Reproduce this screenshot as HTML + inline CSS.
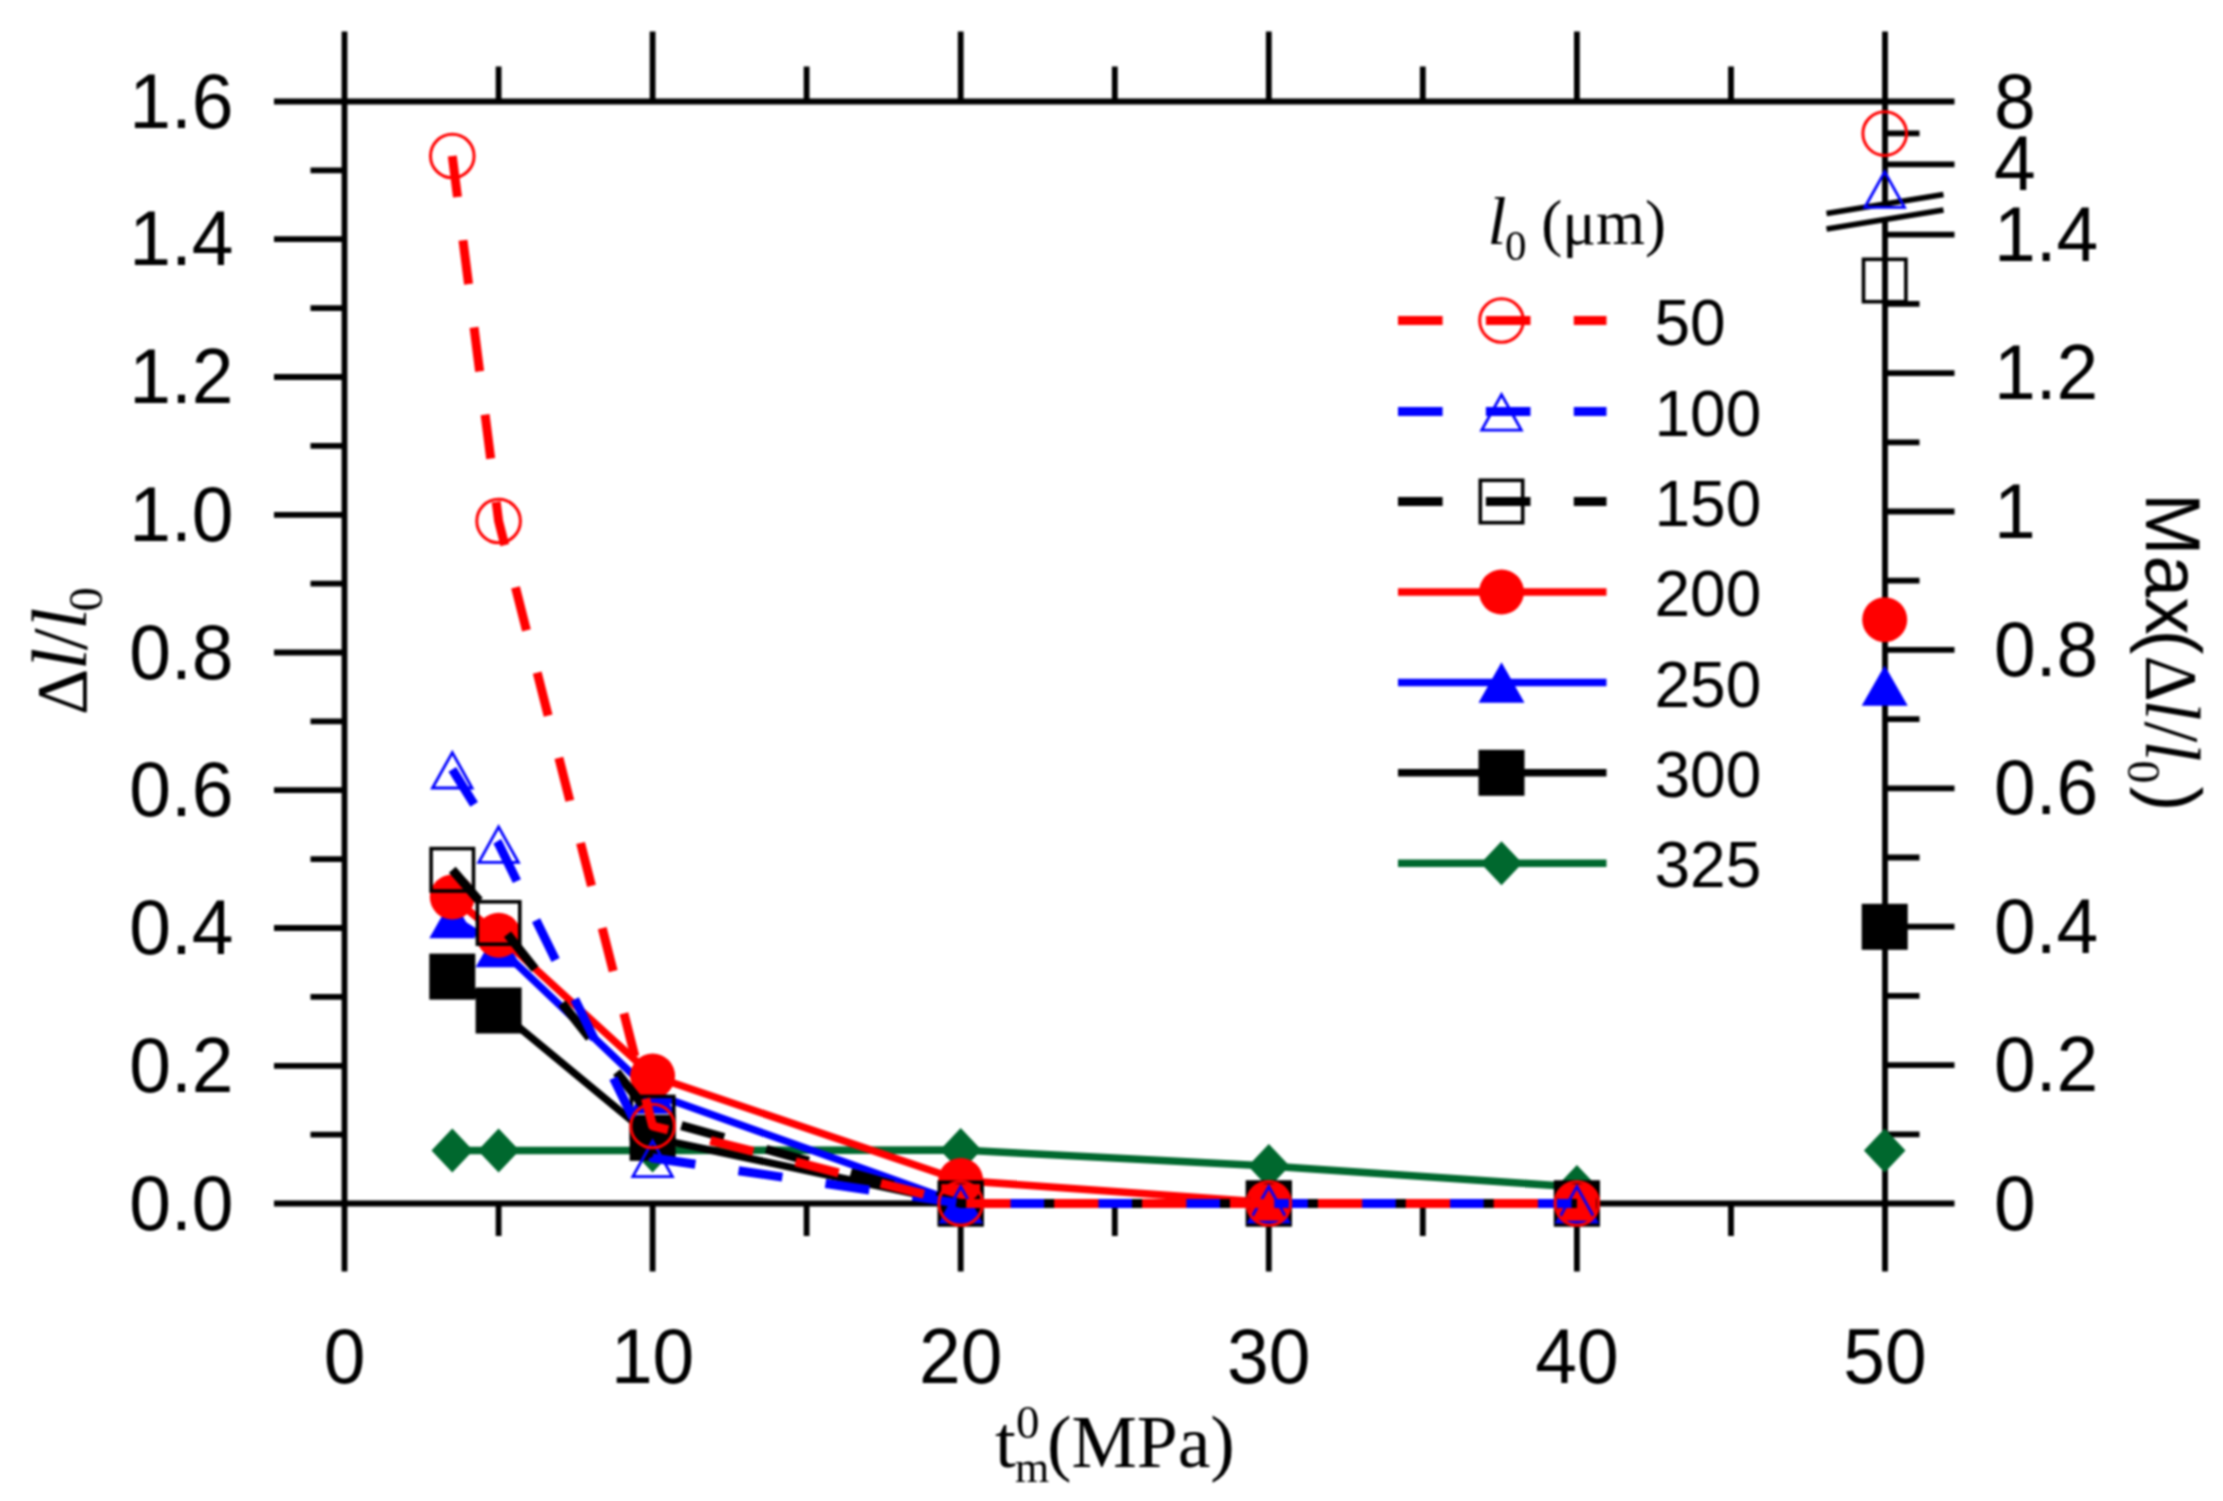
<!DOCTYPE html>
<html lang="en"><head><meta charset="utf-8"><title>Chart</title>
<style>html,body{margin:0;padding:0;background:#fff;}body{width:2223px;height:1501px;overflow:hidden;}svg{display:block;filter:blur(1.3px);}.s{font-family:"Liberation Sans",sans-serif;}.r{font-family:"Liberation Serif",serif;}.i{font-family:"Liberation Serif",serif;font-style:italic;}</style>
</head><body>
<svg width="2223" height="1501" viewBox="0 0 2223 1501">
<rect width="2223" height="1501" fill="#fff"/>
<g stroke="#000" stroke-width="5.8" fill="none" stroke-linecap="butt">
<path d="M344.5 31.5V1271.5"/>
<path d="M1885.0 31.5V1271.5"/>
<path d="M274 101.5H1954.5"/>
<path d="M274 1203.5H1954.5"/>
<path d="M498.6 1203.5V1236M498.6 101.5V66.5M652.6 1203.5V1271.5M652.6 101.5V31.5M806.6 1203.5V1236M806.6 101.5V66.5M960.7 1203.5V1271.5M960.7 101.5V31.5M1114.8 1203.5V1236M1114.8 101.5V66.5M1268.8 1203.5V1271.5M1268.8 101.5V31.5M1422.8 1203.5V1236M1422.8 101.5V66.5M1576.9 1203.5V1271.5M1576.9 101.5V31.5M1731.0 1203.5V1236M1731.0 101.5V66.5"/>
<path d="M344.5 1134.6H310.5M344.5 1065.8H274M344.5 996.9H310.5M344.5 928.0H274M344.5 859.1H310.5M344.5 790.2H274M344.5 721.4H310.5M344.5 652.5H274M344.5 583.6H310.5M344.5 514.8H274M344.5 445.9H310.5M344.5 377.0H274M344.5 308.1H310.5M344.5 239.2H274M344.5 170.4H310.5"/>
<path d="M1885.0 1065.1H1954.5M1885.0 926.7H1954.5M1885.0 788.3H1954.5M1885.0 649.9H1954.5M1885.0 511.5H1954.5M1885.0 373.1H1954.5M1885.0 234.7H1954.5M1885.0 1134.3H1919.5M1885.0 995.9H1919.5M1885.0 857.5H1919.5M1885.0 719.1H1919.5M1885.0 580.7H1919.5M1885.0 442.3H1919.5M1885.0 303.9H1919.5M1885.0 164.4H1954.5M1885.0 133.4H1919.5"/>
</g>
<path d="M1878 206.5L1892 204.2L1892 219.2L1878 221.5Z" fill="#fff"/>
<path d="M1826.5 213.6L1943.5 194.6M1826.5 229.1L1943.5 210.1" stroke="#000" stroke-width="5.6" fill="none" stroke-linecap="butt"/>
<polyline points="452.3,1150.5 498.6,1150.5 652.6,1150.5 960.7,1150.0 1268.8,1166.0 1576.9,1187.0" fill="none" stroke="#00682e" stroke-width="7.5" stroke-linejoin="round"/>
<path d="M431.5 1150.5L452.3 1128.5L473.1 1150.5L452.3 1172.5Z" fill="#00682e"/>
<path d="M477.8 1150.5L498.6 1128.5L519.4 1150.5L498.6 1172.5Z" fill="#00682e"/>
<path d="M631.8 1150.5L652.6 1128.5L673.4 1150.5L652.6 1172.5Z" fill="#00682e"/>
<path d="M939.9 1150.0L960.7 1128.0L981.5 1150.0L960.7 1172.0Z" fill="#00682e"/>
<path d="M1248.0 1166.0L1268.8 1144.0L1289.6 1166.0L1268.8 1188.0Z" fill="#00682e"/>
<path d="M1556.1 1187.0L1576.9 1165.0L1597.7 1187.0L1576.9 1209.0Z" fill="#00682e"/>
<path d="M1863.9 1150.6L1884.7 1128.6L1905.5 1150.6L1884.7 1172.6Z" fill="#00682e"/>
<polyline points="452.3,976.6 498.6,1010.5 652.6,1137.8 960.7,1203.5 1268.8,1203.5 1576.9,1203.5" fill="none" stroke="#000" stroke-width="7.5" stroke-linejoin="round"/>
<rect x="429.3" y="953.6" width="46" height="46" fill="#000"/>
<rect x="475.6" y="987.5" width="46" height="46" fill="#000"/>
<rect x="629.6" y="1114.8" width="46" height="46" fill="#000"/>
<rect x="937.7" y="1180.5" width="46" height="46" fill="#000"/>
<rect x="1245.8" y="1180.5" width="46" height="46" fill="#000"/>
<rect x="1553.9" y="1180.5" width="46" height="46" fill="#000"/>
<rect x="1861.7" y="903.8" width="46" height="46" fill="#000"/>
<polyline points="452.3,918.0 498.6,947.0 652.6,1093.5 960.7,1203.5 1268.8,1203.5 1576.9,1203.5" fill="none" stroke="#0000ff" stroke-width="7.5" stroke-linejoin="round"/>
<path d="M429.3 938.2L452.3 897.8L475.3 938.2Z" fill="#0000ff"/>
<path d="M475.6 967.2L498.6 926.8L521.5 967.2Z" fill="#0000ff"/>
<path d="M629.6 1113.7L652.6 1073.3L675.6 1113.7Z" fill="#0000ff"/>
<path d="M937.7 1223.7L960.7 1183.3L983.7 1223.7Z" fill="#0000ff"/>
<path d="M1245.8 1223.7L1268.8 1183.3L1291.8 1223.7Z" fill="#0000ff"/>
<path d="M1553.9 1223.7L1576.9 1183.3L1599.9 1223.7Z" fill="#0000ff"/>
<path d="M1861.7 705.8L1884.7 665.4L1907.7 705.8Z" fill="#0000ff"/>
<polyline points="452.3,897.0 498.6,935.3 652.6,1076.0 960.7,1180.5 1268.8,1202.5 1576.9,1203.5" fill="none" stroke="#ff0000" stroke-width="7.5" stroke-linejoin="round"/>
<circle cx="452.3" cy="897.0" r="22.5" fill="#ff0000"/>
<circle cx="498.6" cy="935.3" r="22.5" fill="#ff0000"/>
<circle cx="652.6" cy="1076.0" r="22.5" fill="#ff0000"/>
<circle cx="960.7" cy="1180.5" r="22.5" fill="#ff0000"/>
<circle cx="1268.8" cy="1202.5" r="22.5" fill="#ff0000"/>
<circle cx="1576.9" cy="1203.5" r="22.5" fill="#ff0000"/>
<circle cx="1884.7" cy="619.7" r="22.5" fill="#ff0000"/>
<polyline points="452.3,869.8 498.6,923.0 652.6,1117.6 960.7,1203.5 1268.8,1203.5 1576.9,1203.5" fill="none" stroke="#000" stroke-width="9" stroke-dasharray="44.3 43.6" stroke-dashoffset="3" stroke-linejoin="round"/>
<rect x="431.1" y="848.6" width="42.4" height="42.4" fill="none" stroke="#000" stroke-width="3.6"/>
<rect x="477.4" y="901.8" width="42.4" height="42.4" fill="none" stroke="#000" stroke-width="3.6"/>
<rect x="631.4" y="1096.4" width="42.4" height="42.4" fill="none" stroke="#000" stroke-width="3.6"/>
<rect x="939.5" y="1182.3" width="42.4" height="42.4" fill="none" stroke="#000" stroke-width="3.6"/>
<rect x="1247.6" y="1182.3" width="42.4" height="42.4" fill="none" stroke="#000" stroke-width="3.6"/>
<rect x="1555.7" y="1182.3" width="42.4" height="42.4" fill="none" stroke="#000" stroke-width="3.6"/>
<rect x="1863.5" y="259.3" width="42.4" height="42.4" fill="none" stroke="#000" stroke-width="3.6"/>
<polyline points="452.3,769.4 498.6,843.8 652.6,1158.0 960.7,1203.5 1268.8,1203.5 1576.9,1203.5" fill="none" stroke="#0000ff" stroke-width="9" stroke-dasharray="44.3 43.6" stroke-dashoffset="3" stroke-linejoin="round"/>
<path d="M432.5 788.0L452.3 752.5L472.1 788.0Z" fill="none" stroke="#0000ff" stroke-width="2.8" stroke-linejoin="miter"/>
<path d="M478.8 862.4L498.6 826.9L518.4 862.4Z" fill="none" stroke="#0000ff" stroke-width="2.8" stroke-linejoin="miter"/>
<path d="M632.8 1176.6L652.6 1141.1L672.4 1176.6Z" fill="none" stroke="#0000ff" stroke-width="2.8" stroke-linejoin="miter"/>
<path d="M940.9 1222.1L960.7 1186.6L980.5 1222.1Z" fill="none" stroke="#0000ff" stroke-width="2.8" stroke-linejoin="miter"/>
<path d="M1249.0 1222.1L1268.8 1186.6L1288.6 1222.1Z" fill="none" stroke="#0000ff" stroke-width="2.8" stroke-linejoin="miter"/>
<path d="M1557.1 1222.1L1576.9 1186.6L1596.7 1222.1Z" fill="none" stroke="#0000ff" stroke-width="2.8" stroke-linejoin="miter"/>
<path d="M1864.9 207.3L1884.7 171.8L1904.5 207.3Z" fill="none" stroke="#0000ff" stroke-width="2.8" stroke-linejoin="miter"/>
<polyline points="452.3,156.0 498.6,521.0 652.6,1126.0 960.7,1203.5 1268.8,1203.5 1576.9,1203.5" fill="none" stroke="#ff0000" stroke-width="9" stroke-dasharray="44.3 43.6" stroke-dashoffset="3" stroke-linejoin="round"/>
<circle cx="452.3" cy="156.0" r="21.8" fill="none" stroke="#ff0000" stroke-width="3"/>
<circle cx="498.6" cy="521.0" r="21.8" fill="none" stroke="#ff0000" stroke-width="3"/>
<circle cx="652.6" cy="1126.0" r="21.8" fill="none" stroke="#ff0000" stroke-width="3"/>
<circle cx="960.7" cy="1203.5" r="21.8" fill="none" stroke="#ff0000" stroke-width="3"/>
<circle cx="1268.8" cy="1203.5" r="21.8" fill="none" stroke="#ff0000" stroke-width="3"/>
<circle cx="1576.9" cy="1203.5" r="21.8" fill="none" stroke="#ff0000" stroke-width="3"/>
<circle cx="1884.7" cy="133.6" r="21.8" fill="none" stroke="#ff0000" stroke-width="3"/>
<path d="M1398 320.5H1606.5" stroke="#ff0000" stroke-width="9" stroke-dasharray="44.6 43.3" fill="none"/>
<circle cx="1501.5" cy="320.5" r="21.8" fill="none" stroke="#ff0000" stroke-width="3"/>
<path d="M1398 411.5H1606.5" stroke="#0000ff" stroke-width="9" stroke-dasharray="44.6 43.3" fill="none"/>
<path d="M1481.7 430.1L1501.5 394.6L1521.3 430.1Z" fill="none" stroke="#0000ff" stroke-width="2.8" stroke-linejoin="miter"/>
<path d="M1398 501.5H1606.5" stroke="#000" stroke-width="9" stroke-dasharray="44.6 43.3" fill="none"/>
<rect x="1480.3" y="480.3" width="42.4" height="42.4" fill="none" stroke="#000" stroke-width="3.6"/>
<path d="M1398 592H1606.5" stroke="#ff0000" stroke-width="7.5" fill="none"/>
<circle cx="1501.5" cy="592.0" r="22.5" fill="#ff0000"/>
<path d="M1398 682.5H1606.5" stroke="#0000ff" stroke-width="7.5" fill="none"/>
<path d="M1478.5 702.7L1501.5 662.3L1524.5 702.7Z" fill="#0000ff"/>
<path d="M1398 772.8H1606.5" stroke="#000" stroke-width="7.5" fill="none"/>
<rect x="1478.5" y="749.8" width="46" height="46" fill="#000"/>
<path d="M1398 863.2H1606.5" stroke="#00682e" stroke-width="7.5" fill="none"/>
<path d="M1480.7 863.2L1501.5 841.2L1522.3 863.2L1501.5 885.2Z" fill="#00682e"/>
<g class="s" fill="#000">
<text transform="translate(233.5 1229.5) scale(1 1.03)" text-anchor="end" font-size="75">0.0</text>
<text transform="translate(233.5 1091.8) scale(1 1.03)" text-anchor="end" font-size="75">0.2</text>
<text transform="translate(233.5 954.0) scale(1 1.03)" text-anchor="end" font-size="75">0.4</text>
<text transform="translate(233.5 816.2) scale(1 1.03)" text-anchor="end" font-size="75">0.6</text>
<text transform="translate(233.5 678.5) scale(1 1.03)" text-anchor="end" font-size="75">0.8</text>
<text transform="translate(233.5 540.8) scale(1 1.03)" text-anchor="end" font-size="75">1.0</text>
<text transform="translate(233.5 403.0) scale(1 1.03)" text-anchor="end" font-size="75">1.2</text>
<text transform="translate(233.5 265.2) scale(1 1.03)" text-anchor="end" font-size="75">1.4</text>
<text transform="translate(233.5 127.5) scale(1 1.03)" text-anchor="end" font-size="75">1.6</text>
<text transform="translate(344.5 1382.5) scale(1 1.03)" text-anchor="middle" font-size="75">0</text>
<text transform="translate(652.6 1382.5) scale(1 1.03)" text-anchor="middle" font-size="75">10</text>
<text transform="translate(960.7 1382.5) scale(1 1.03)" text-anchor="middle" font-size="75">20</text>
<text transform="translate(1268.8 1382.5) scale(1 1.03)" text-anchor="middle" font-size="75">30</text>
<text transform="translate(1576.9 1382.5) scale(1 1.03)" text-anchor="middle" font-size="75">40</text>
<text transform="translate(1885.0 1382.5) scale(1 1.03)" text-anchor="middle" font-size="75">50</text>
<text transform="translate(1994.0 1229.5) scale(1 1.03)" text-anchor="start" font-size="75">0</text>
<text transform="translate(1994.0 1091.1) scale(1 1.03)" text-anchor="start" font-size="75">0.2</text>
<text transform="translate(1994.0 952.7) scale(1 1.03)" text-anchor="start" font-size="75">0.4</text>
<text transform="translate(1994.0 814.3) scale(1 1.03)" text-anchor="start" font-size="75">0.6</text>
<text transform="translate(1994.0 675.9) scale(1 1.03)" text-anchor="start" font-size="75">0.8</text>
<text transform="translate(1994.0 537.5) scale(1 1.03)" text-anchor="start" font-size="75">1</text>
<text transform="translate(1994.0 399.1) scale(1 1.03)" text-anchor="start" font-size="75">1.2</text>
<text transform="translate(1994.0 260.7) scale(1 1.03)" text-anchor="start" font-size="75">1.4</text>
<text transform="translate(1994.0 190.4) scale(1 1.03)" text-anchor="start" font-size="75">4</text>
<text transform="translate(1994.0 127.5) scale(1 1.03)" text-anchor="start" font-size="75">8</text>
<text transform="translate(1654.5 344.5) scale(1 1.0)" text-anchor="start" font-size="64">50</text>
<text transform="translate(1654.5 435.5) scale(1 1.0)" text-anchor="start" font-size="64">100</text>
<text transform="translate(1654.5 525.5) scale(1 1.0)" text-anchor="start" font-size="64">150</text>
<text transform="translate(1654.5 616.0) scale(1 1.0)" text-anchor="start" font-size="64">200</text>
<text transform="translate(1654.5 706.5) scale(1 1.0)" text-anchor="start" font-size="64">250</text>
<text transform="translate(1654.5 796.8) scale(1 1.0)" text-anchor="start" font-size="64">300</text>
<text transform="translate(1654.5 887.2) scale(1 1.0)" text-anchor="start" font-size="64">325</text>
</g>
<text y="244" fill="#000" font-size="63"><tspan class="i" font-size="68" x="1487.5">l</tspan><tspan class="r" font-size="43" x="1505" y="259.5">0</tspan><tspan class="r" x="1525.5" y="244"> (μm)</tspan></text>
<text y="1467" fill="#000" class="r"><tspan x="995" font-size="75">t</tspan><tspan x="1016" y="1437.5" font-size="47">0</tspan><tspan x="1015" y="1482.3" font-size="44">m</tspan><tspan x="1047" y="1467" font-size="73.5">(MPa)</tspan></text>
<text transform="translate(86 714.5) rotate(-90)" font-size="79" fill="#000"><tspan class="r" font-size="72" x="-0.5">Δ</tspan><tspan class="i" x="44.5">l</tspan><tspan class="r" x="64.3">/</tspan><tspan class="i" x="84.8">l</tspan><tspan class="r" font-size="48.5" x="103" y="16">0</tspan></text>
<text transform="translate(2146 493) rotate(90) scale(1 1.03)" font-size="75" fill="#000"><tspan class="s" x="0">Max</tspan><tspan class="s" x="136.5">(</tspan><tspan class="r" font-size="72" x="162.5">Δ</tspan><tspan class="i" x="206.5">l</tspan><tspan class="r" x="228.5">/</tspan><tspan class="i" x="247.5">l</tspan><tspan class="r" font-size="46" x="267.5" y="17">0</tspan><tspan class="s" x="293.5" y="0">)</tspan></text>
</svg></body></html>
